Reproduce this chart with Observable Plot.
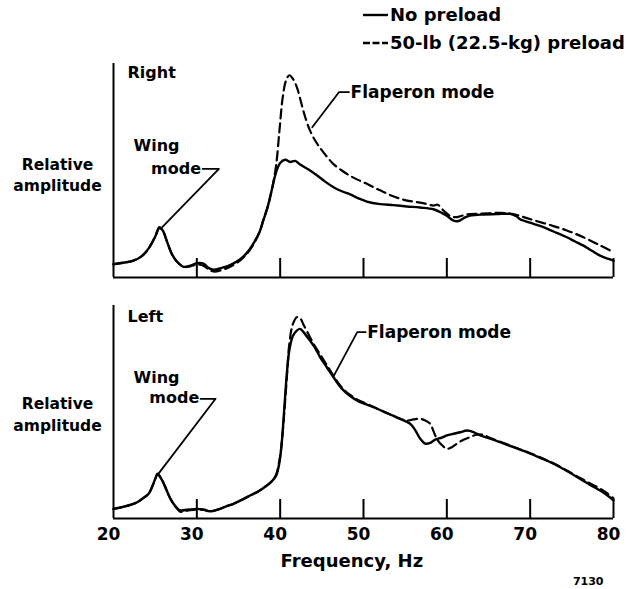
<!DOCTYPE html>
<html><head><meta charset="utf-8">
<script src="https://cdn.jsdelivr.net/npm/d3@7"></script>
<script src="https://cdn.jsdelivr.net/npm/@observablehq/plot@0.6"></script>
<style>
body{margin:0;background:#fff;}
#wrap{position:relative;width:636px;height:589px;font-family:"DejaVu Sans",sans-serif;font-weight:bold;color:#000;overflow:hidden;}
#wrap > svg{position:absolute;left:0;}
#legend{position:absolute;left:363px;top:1px;font-size:18px;line-height:28px;}
#legend div{display:flex;align-items:center;white-space:nowrap;}
#legend svg{margin-right:2px;}
</style></head><body><div id="wrap"><div id="legend"></div></div>
<script>
// ---- data (frequency Hz, relative amplitude 0-100) ----
const xTicks = [30, 40, 50, 60, 70, 80];
const xTickLabels = [20, 30, 40, 50, 60, 70, 80];
const seriesNames = ["No preload", "50-lb (22.5-kg) preload"];
const panelNames = ["Right", "Left"];

const rightNoPreload = [
[20,6.2],[21,6.8],[22.4,7.9],[23.4,10],[24.2,13.5],[25,19],[25.5,23.5],[25.9,22],[26.4,17],[27,11],[27.6,7.5],[28.4,5],[29.2,5.5],[30,6.7],[30.8,6.5],[31.4,4.5],[32,3.6],[33,4.5],[34,5.8],[35.2,8.5],[36,11.5],[36.8,16],[37.5,21],[38,27],[38.5,33],[39,41],[39.5,49],[40,53.5],[40.6,55],[41.2,54],[41.8,54.5],[42.4,52.8],[43.4,50.5],[44.4,47.8],[45.4,44.8],[46.4,42.2],[47.4,40.3],[48.4,38.8],[49.4,37],[50.4,35.5],[52,34.3],[53.6,33.8],[55.2,33.2],[56.8,32.7],[58.4,31.9],[59.4,30.2],[60,28.8],[60.8,26.6],[61.4,26.4],[62.4,28.5],[63.4,29.2],[64.4,29.4],[66,29.6],[67.6,29.7],[68.4,28.5],[68.8,27.2],[70.4,25.1],[71.6,23.5],[72.8,21.5],[74.4,18.8],[75.4,16.8],[76.4,14.9],[77.4,12.5],[78.4,10.2],[79.3,8.8],[80,7.9]
];
const rightPreload = [
[20,6.2],[21,6.8],[22.4,7.9],[23.4,10],[24.2,13.5],[25,19],[25.5,23],[25.9,22],[26.4,17],[27,11],[27.6,7.5],[28.4,5],[29.2,5.2],[30,6],[30.8,5.5],[31.4,3.8],[32,2.8],[33,3.5],[34,5],[35.2,8],[36,11],[36.8,15.5],[37.5,21],[38,27],[38.5,33],[39,41],[39.5,52],[39.9,68],[40.3,84],[40.7,92],[41.1,94.5],[41.5,93],[42,89],[42.5,82],[43,75],[43.6,68.5],[44.2,64],[44.8,60.5],[45.6,56.5],[46.4,53],[47.4,50],[48.4,47.5],[49.4,45.5],[50.4,43.8],[51.4,41.8],[52.4,40],[53.4,38.2],[54.4,36.8],[55.4,35.8],[56.4,35.2],[57.4,34.5],[58.4,33.6],[58.9,34],[59.6,31.3],[60.4,28.8],[61,28.2],[61.6,28.6],[62.4,29.5],[64,29.8],[66.4,30.2],[67.6,29.9],[68.4,29.2],[69.4,28],[70.4,26.8],[72.4,24.5],[74.4,22],[76.4,18.8],[78.4,15],[80,11.8]
];
const leftNoPreload = [
[20,4.5],[21.2,5.5],[22.4,6.9],[23,8],[23.6,9.7],[24.2,11.5],[24.6,14.5],[25,18.5],[25.3,21],[25.6,19.5],[25.9,17.5],[26.4,13],[26.8,9.5],[27.2,6.9],[27.6,5],[28,3.8],[29,4.2],[30,4.5],[30.8,4.3],[31.6,3.4],[32.6,4.3],[33.6,5.8],[34.4,6.9],[35.4,8.8],[36.4,10.8],[37.4,12.8],[38.4,15.5],[39,17.5],[39.5,20],[39.9,26],[40.2,36],[40.5,52],[40.8,68],[41.1,79],[41.5,85.5],[42,88.2],[42.4,89],[42.8,87.5],[43.4,84.5],[44.2,80],[44.8,75.7],[45.6,71],[46.4,66.3],[47.4,61],[48.4,57.5],[49.4,55],[50.4,53.5],[51.4,52],[52.4,50.2],[53.4,48.5],[54.4,46.8],[55.6,44.5],[56.2,41.5],[56.8,37.5],[57.4,35.2],[58,35.5],[58.6,37],[59.4,38],[60,39],[60.8,39.8],[61.6,40.5],[62.4,41.3],[63.2,40.6],[64,39],[65.2,37.5],[66.4,35.8],[68,33.5],[69.6,31.1],[71.2,28.5],[72.8,25.7],[74.4,22.3],[76,18.6],[77.2,15.8],[78.4,13.1],[79.2,11],[80,8.5]
];
const leftPreload = [
[20,4.5],[21.2,5.5],[22.4,6.9],[23,8],[23.6,9.7],[24.2,11.5],[24.6,14.5],[25,18.5],[25.3,21],[25.6,19.5],[25.9,17.5],[26.4,13],[26.8,9.5],[27.2,6.9],[27.6,4.8],[28,3.2],[29,3.8],[30,4.2],[30.8,4],[31.6,3.4],[32.6,4.3],[33.6,5.8],[34.4,6.9],[35.4,8.8],[36.4,10.8],[37.4,12.8],[38.4,15.5],[39,17.5],[39.5,20.5],[39.9,27],[40.2,36],[40.5,50],[40.8,66],[41.1,82],[41.5,91],[42,94.5],[42.4,94],[42.8,91],[43.4,86.5],[44,82],[44.8,77],[45.6,72],[46.4,67],[47.4,61.5],[48.4,58],[49.4,55.5],[50.4,53.8],[51.4,52],[52.4,50.2],[53.4,48.5],[54.4,46.8],[55.2,46],[56,46.5],[56.8,46.8],[57.4,46],[58,44.5],[58.4,41],[58.8,37.4],[59.4,34.5],[60,32.7],[60.6,33.5],[61.2,35.1],[62,37],[62.8,38.2],[63.6,39.4],[64.4,39.2],[65.2,37.8],[66.4,36],[68,33.6],[69.6,31.3],[71.2,28.7],[72.8,25.9],[74.4,22.6],[76,19],[77.2,16.5],[78.4,14],[79.2,12],[80,9.5]
];

// annotation leader lines and label anchors (frequency, amplitude)
const rightFlapLeader = [[43.85,70.2],[47.05,86.6],[48.25,86.6]];
const rightFlapLabel = [{f:48.45, a:86.5, t:"Flaperon mode"}];
const rightWingLeader = [[25.85,23.5],[32.65,50.8],[30.7,50.8]];
const rightWingTop = [{f:22.4, a:61.4, t:"Wing"}];
const rightWingBottom = [{f:30.5, a:50.9, t:"mode"}];
const leftFlapLeader = [[46.45,67.1],[49.25,87.5],[50.25,87.5]];
const leftFlapLabel = [{f:50.45, a:87.5, t:"Flaperon mode"}];
const leftWingLeader = [[25.45,21.3],[32.25,56.2],[30.45,56.2]];
const leftWingTop = [{f:22.4, a:66, t:"Wing"}];
const leftWingBottom = [{f:30.3, a:56.6, t:"mode"}];

const FONT = "DejaVu Sans";
const wrap = document.getElementById("wrap");

function panel({solid, dashed, title, flapLeader, flapLabel, wingLeader, wingTop, wingBottom, height, marginTop, marginBottom, titleDy, relDy, bottomAxis}) {
  const innerH = height - marginTop - marginBottom;
  const textOpts = {fontSize: 16, fontWeight: "bold", fontFamily: FONT, fill: "black"};
  const marks = [
    Plot.ruleX([20], {strokeWidth: 2}),
    Plot.ruleY([0], {strokeWidth: 2}),
    Plot.tickX(xTicks, {x: d => d, insetTop: innerH - 19, strokeWidth: 2}),
    Plot.line(solid, {x: d => d[0], y: d => d[1], curve: "catmull-rom", strokeWidth: 2.4, stroke: "black"}),
    Plot.line(dashed, {x: d => d[0], y: d => d[1], curve: "catmull-rom", strokeWidth: 2.2, stroke: "black", strokeDasharray: "9,5"}),
    Plot.line(flapLeader, {x: d => d[0], y: d => d[1], strokeWidth: 1.8, stroke: "black"}),
    Plot.line(wingLeader, {x: d => d[0], y: d => d[1], strokeWidth: 1.8, stroke: "black"}),
    Plot.text(flapLabel, {x: "f", y: "a", text: "t", textAnchor: "start", lineAnchor: "middle", ...textOpts, fontSize: 17}),
    Plot.text(wingTop, {x: "f", y: "a", text: "t", textAnchor: "start", lineAnchor: "middle", ...textOpts}),
    Plot.text(wingBottom, {x: "f", y: "a", text: "t", textAnchor: "end", lineAnchor: "middle", ...textOpts}),
    Plot.text([title], {frameAnchor: "top-left", dx: 14, dy: titleDy, textAnchor: "start", lineAnchor: "middle", ...textOpts}),
    Plot.text(["Relative\namplitude"], {frameAnchor: "left", dx: -56, dy: relDy, textAnchor: "middle", lineAnchor: "middle", lineHeight: 1.4, ...textOpts, fontSize: 15.5})
  ];
  if (bottomAxis) {
    marks.push(
      Plot.text(xTickLabels, {x: d => d, frameAnchor: "bottom", dy: 16, dx: -5, lineAnchor: "middle", ...textOpts, fontSize: 17}),
      Plot.text(["Frequency, Hz"], {x: () => 48.6, frameAnchor: "bottom", dy: 43, lineAnchor: "middle", ...textOpts, fontSize: 18}),
      Plot.text(["7130"], {frameAnchor: "bottom-right", dx: -10, dy: 63, textAnchor: "end", lineAnchor: "middle", ...textOpts, fontSize: 11})
    );
  }
  return Plot.plot({
    width: 636, height, marginLeft: 113, marginRight: 23, marginTop, marginBottom,
    x: {domain: [20, 80], axis: null},
    y: {domain: [0, 100], axis: null},
    style: {fontFamily: FONT, background: "transparent", overflow: "visible"},
    marks
  });
}

const topPanel = panel({solid: rightNoPreload, dashed: rightPreload, title: panelNames[0],
  flapLeader: rightFlapLeader, flapLabel: rightFlapLabel, wingLeader: rightWingLeader, wingTop: rightWingTop, wingBottom: rightWingBottom,
  height: 290, marginTop: 63, marginBottom: 13, titleDy: 9, relDy: 3, bottomAxis: false});
topPanel.style.top = "0px";
wrap.appendChild(topPanel);

const bottomPanel = panel({solid: leftNoPreload, dashed: leftPreload, title: panelNames[1],
  flapLeader: leftFlapLeader, flapLabel: leftFlapLabel, wingLeader: leftWingLeader, wingTop: leftWingTop, wingBottom: leftWingBottom,
  height: 299, marginTop: 15, marginBottom: 71, titleDy: 11, relDy: 1, bottomAxis: true});
bottomPanel.style.top = "290px";
wrap.appendChild(bottomPanel);

// legend
const legend = document.getElementById("legend");
seriesNames.forEach((name, i) => {
  const row = document.createElement("div");
  row.innerHTML = `<svg width="25" height="10"><line x1="0" x2="25" y1="5" y2="5" stroke="black" stroke-width="2.4" ${i ? 'stroke-dasharray="7,2.5"' : ''}/></svg><span>${name}</span>`;
  legend.appendChild(row);
});
</script>
</body></html>
